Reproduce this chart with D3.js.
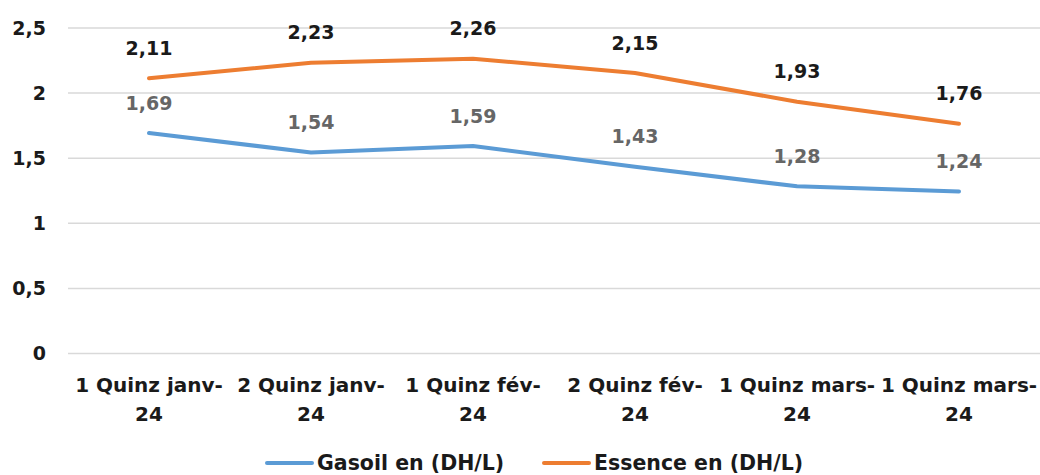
<!DOCTYPE html>
<html><head><meta charset="utf-8">
<script src="https://cdn.jsdelivr.net/npm/d3@7"></script>
<style>body{margin:0;background:#fff}svg{display:block}text{font-family:"DejaVu Sans",sans-serif;font-weight:700}</style>
</head><body><svg id="c" width="1040" height="475"></svg>
<script>
const categories = [["1 Quinz janv-","24"],["2 Quinz janv-","24"],["1 Quinz fév-","24"],["2 Quinz fév-","24"],["1 Quinz mars-","24"],["1 Quinz mars-","24"]];
const gasoil = [1.69,1.54,1.59,1.43,1.28,1.24];
const essence = [2.11,2.23,2.26,2.15,1.93,1.76];
const yTicks = [0,0.5,1,1.5,2,2.5];
const seriesNames = ["Gasoil en (DH/L)","Essence en (DH/L)"];
const colors = ["#5B9BD5","#ED7D31"];

const svg = d3.select("#c");
const x = d3.scaleBand().domain(d3.range(categories.length)).range([68,1040]);
const y = d3.scaleLinear().domain([0,2.5]).range([353,27.5]);
const fmt = v => String(v).replace(".", ",");

const yAxis = d3.axisLeft(y).tickValues(yTicks).tickSize(-(1040-68)).tickFormat(fmt).tickPadding(22);
const gy = svg.append("g").attr("transform","translate(68,0)").call(yAxis);
gy.select(".domain").remove();
gy.selectAll(".tick line").attr("stroke","#d9d9d9").attr("stroke-width",1.5);
gy.selectAll(".tick text").attr("font-size",19).attr("fill","#1a1a1a").attr("dy","0.35em");

const xAxis = d3.axisBottom(x).tickSize(0).tickFormat(()=> "");
const gx = svg.append("g").attr("transform","translate(0,353)").call(xAxis);
gx.select(".domain").remove();
gx.selectAll(".tick text").remove();
gx.selectAll(".tick").each(function(d){
  const t = d3.select(this).append("text").attr("text-anchor","middle").attr("font-size",20).attr("fill","#1a1a1a");
  categories[d].forEach((s,i)=>t.append("tspan").attr("x",0).attr("y",39+i*29).text(s));
});

const cx = i => x(i) + x.bandwidth()/2;
const line = d3.line().x((d,i)=>cx(i)).y(d=>y(d));
[gasoil, essence].forEach((s,k)=>{
  svg.append("path").datum(s).attr("d",line).attr("fill","none").attr("stroke",colors[k]).attr("stroke-width",4).attr("stroke-linecap","round").attr("stroke-linejoin","round");
  svg.selectAll(null).data(s).enter().append("text")
    .attr("x",(d,i)=>cx(i)).attr("y",d=>y(d)-30).attr("dy","0.35em")
    .attr("text-anchor","middle").attr("font-size",19)
    .attr("fill", k===0 ? "#666666" : "#1a1a1a").text(fmt);
});

const legX = [267,544];
seriesNames.forEach((n,k)=>{
  svg.append("line").attr("x1",legX[k]).attr("x2",legX[k]+45).attr("y1",463).attr("y2",463).attr("stroke",colors[k]).attr("stroke-width",4).attr("stroke-linecap","round");
  svg.append("text").attr("x",legX[k]+50).attr("y",463).attr("dy","0.35em").attr("font-size",20.5).attr("fill","#1a1a1a").text(n);
});
</script></body></html>
